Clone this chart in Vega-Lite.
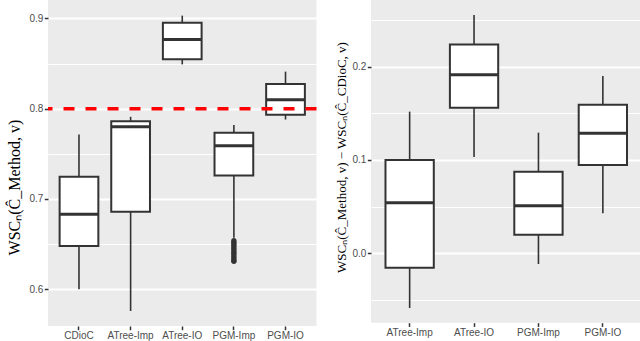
{
  "$schema": "https://vega.github.io/schema/vega-lite/v6.json",
  "padding": {"left": 6, "top": 0, "right": 0, "bottom": 0},
  "background": "white",
  "spacing": 16,
  "datasets": {
    "left": [
      {"method": "CDioC", "lower": 0.600, "q1": 0.648, "median": 0.683, "q3": 0.7246, "upper": 0.7715},
      {"method": "ATree-Imp", "lower": 0.576, "q1": 0.6858, "median": 0.780, "q3": 0.786, "upper": 0.791},
      {"method": "ATree-IO", "lower": 0.849, "q1": 0.8546, "median": 0.8767, "q3": 0.895, "upper": 0.903},
      {"method": "PGM-Imp", "lower": 0.657, "q1": 0.7261, "median": 0.759, "q3": 0.7733, "upper": 0.7818},
      {"method": "PGM-IO", "lower": 0.788, "q1": 0.7934, "median": 0.810, "q3": 0.8273, "upper": 0.841}
    ],
    "leftOut": [
      {"method": "PGM-Imp", "value": 0.654},
      {"method": "PGM-Imp", "value": 0.652},
      {"method": "PGM-Imp", "value": 0.650},
      {"method": "PGM-Imp", "value": 0.648},
      {"method": "PGM-Imp", "value": 0.646},
      {"method": "PGM-Imp", "value": 0.644},
      {"method": "PGM-Imp", "value": 0.642},
      {"method": "PGM-Imp", "value": 0.640},
      {"method": "PGM-Imp", "value": 0.638},
      {"method": "PGM-Imp", "value": 0.636},
      {"method": "PGM-Imp", "value": 0.634},
      {"method": "PGM-Imp", "value": 0.632},
      {"method": "PGM-Imp", "value": 0.631}
    ],
    "ref": [{"ref": 0.8}],
    "right": [
      {"method": "ATree-Imp", "lower": -0.0586, "q1": -0.0154, "median": 0.0543, "q3": 0.100, "upper": 0.1518},
      {"method": "ATree-IO", "lower": 0.1032, "q1": 0.156, "median": 0.1914, "q3": 0.2236, "upper": 0.2554},
      {"method": "PGM-Imp", "lower": -0.0114, "q1": 0.020, "median": 0.0511, "q3": 0.0875, "upper": 0.1293},
      {"method": "PGM-IO", "lower": 0.0429, "q1": 0.0946, "median": 0.1286, "q3": 0.1593, "upper": 0.190}
    ]
  },
  "hconcat": [
    {
      "width": 268.5,
      "height": 326,
      "layer": [
        {
          "data": {"name": "left"},
          "mark": {"type": "rule", "color": "#333333", "strokeWidth": 1.6},
          "encoding": {
            "x": {"field": "method", "type": "nominal", "sort": null,
              "scale": {"domain": ["CDioC", "ATree-Imp", "ATree-IO", "PGM-Imp", "PGM-IO"], "paddingInner": 0, "paddingOuter": 0.1},
              "axis": {"bandPosition": 0.5, "labelAngle": 0, "gridWidth": 2, "labelPadding": 1, "title": null}},
            "y": {"field": "lower", "type": "quantitative",
              "scale": {"domain": [0.5594, 0.9203], "nice": false, "zero": false},
              "axis": {
                "values": [0.6, 0.65, 0.7, 0.75, 0.8, 0.85, 0.9],
                "format": ".1f",
                "labelExpr": "round(datum.value*20)%2==0 ? datum.label : ''",
                "tickOpacity": {"condition": {"test": "round(datum.value*20)%2!=0", "value": 0}, "value": 1},
                "gridWidth": {"condition": {"test": "round(datum.value*20)%2!=0", "value": 1}, "value": 2},
                "labelPadding": 1.5,
                "title": "WSCₙ(Ĉ_Method, v)",
                "titleFontSize": 16,
                "titleAngle": -90,
                "titleX": -34,
                "titleY": 187,
                "titleAlign": "center",
                "titleBaseline": "middle"
              }},
            "y2": {"field": "upper"}
          }
        },
        {
          "data": {"name": "left"},
          "mark": {"type": "bar", "fill": "white", "stroke": "#333333", "strokeWidth": 2, "width": {"band": 0.75}},
          "encoding": {
            "x": {"field": "method", "type": "nominal", "sort": null},
            "y": {"field": "q1", "type": "quantitative"},
            "y2": {"field": "q3"}
          }
        },
        {
          "data": {"name": "left"},
          "mark": {"type": "tick", "color": "#333333", "thickness": 3, "size": 38.7, "opacity": 1},
          "encoding": {
            "x": {"field": "method", "type": "nominal", "sort": null},
            "y": {"field": "median", "type": "quantitative"}
          }
        },
        {
          "data": {"name": "leftOut"},
          "mark": {"type": "circle", "color": "#333333", "size": 28, "opacity": 1},
          "encoding": {
            "x": {"field": "method", "type": "nominal", "sort": null},
            "y": {"field": "value", "type": "quantitative"}
          }
        },
        {
          "data": {"name": "ref"},
          "mark": {"type": "rule", "color": "#FF0000", "strokeWidth": 3.5, "strokeDash": [11, 11]},
          "encoding": {
            "y": {"field": "ref", "type": "quantitative"}
          }
        }
      ]
    },
    {
      "width": 270.5,
      "height": 322.7,
      "layer": [
        {
          "data": {"name": "right"},
          "mark": {"type": "rule", "color": "#333333", "strokeWidth": 1.6},
          "encoding": {
            "x": {"field": "method", "type": "nominal", "sort": null,
              "scale": {"domain": ["ATree-Imp", "ATree-IO", "PGM-Imp", "PGM-IO"], "paddingInner": 0, "paddingOuter": 0.1},
              "axis": {"bandPosition": 0.5, "labelAngle": 0, "gridWidth": 2, "labelPadding": 1, "title": null}},
            "y": {"field": "lower", "type": "quantitative",
              "scale": {"domain": [-0.0743, 0.2714], "nice": false, "zero": false},
              "axis": {
                "values": [-0.05, 0, 0.05, 0.1, 0.15, 0.2, 0.25],
                "format": ".1f",
                "labelExpr": "round(datum.value*20)%2==0 ? datum.label : ''",
                "tickOpacity": {"condition": {"test": "round(datum.value*20)%2!=0", "value": 0}, "value": 1},
                "gridWidth": {"condition": {"test": "round(datum.value*20)%2!=0", "value": 1}, "value": 2},
                "labelPadding": 1.5,
                "title": "WSCₙ(Ĉ_Method, v) − WSCₙ(Ĉ_CDioC, v)",
                "titleFontSize": 13,
                "titleAngle": -90,
                "titleX": -29.5,
                "titleY": 157,
                "titleAlign": "center",
                "titleBaseline": "middle"
              }},
            "y2": {"field": "upper"}
          }
        },
        {
          "data": {"name": "right"},
          "mark": {"type": "bar", "fill": "white", "stroke": "#333333", "strokeWidth": 2, "width": {"band": 0.75}},
          "encoding": {
            "x": {"field": "method", "type": "nominal", "sort": null},
            "y": {"field": "q1", "type": "quantitative"},
            "y2": {"field": "q3"}
          }
        },
        {
          "data": {"name": "right"},
          "mark": {"type": "tick", "color": "#333333", "thickness": 3, "size": 48.3, "opacity": 1},
          "encoding": {
            "x": {"field": "method", "type": "nominal", "sort": null},
            "y": {"field": "median", "type": "quantitative"}
          }
        }
      ]
    }
  ],
  "config": {
    "view": {"fill": "#EBEBEB", "stroke": null},
    "axis": {
      "domain": false,
      "gridColor": "white",
      "gridOpacity": 1,
      "tickColor": "#333333",
      "tickSize": 3.7,
      "tickWidth": 1.5,
      "labelColor": "#4D4D4D",
      "labelFont": "Liberation Sans",
      "labelFontSize": 10,
      "titleFont": "Liberation Serif",
      "titleFontWeight": "normal",
      "titleColor": "black"
    }
  }
}
